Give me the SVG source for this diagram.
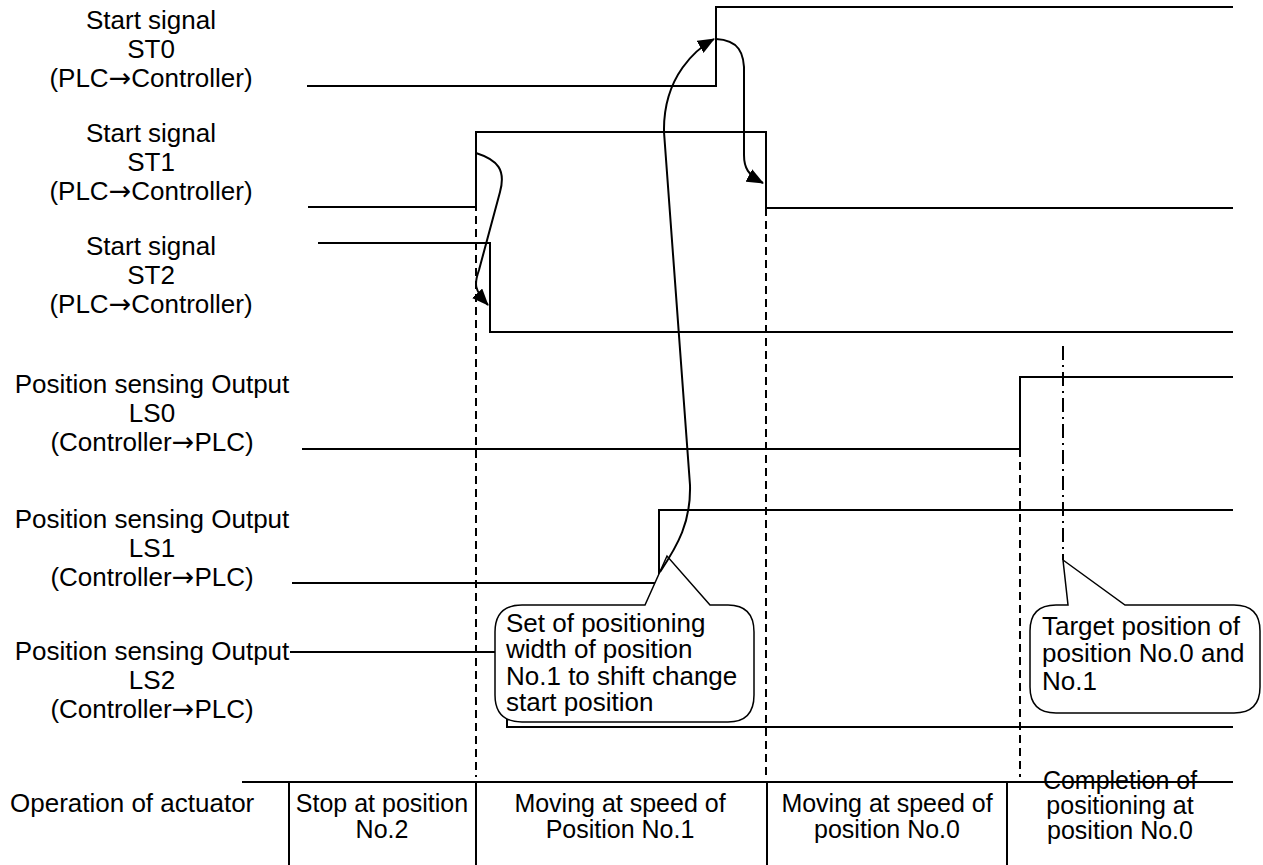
<svg xmlns="http://www.w3.org/2000/svg" width="1263" height="865" viewBox="0 0 1263 865">
<style>
text{font-family:"Liberation Sans",Arial,sans-serif;font-size:26px;fill:#000}
.c{text-anchor:middle}
.ar{font-family:"DejaVu Sans",sans-serif;font-size:27px}
.t{font-size:25px}
.sig{fill:none;stroke:#000;stroke-width:2}
.dash{fill:none;stroke:#000;stroke-width:2;stroke-dasharray:8,5}
.dd{fill:none;stroke:#000;stroke-width:2;stroke-dasharray:14,5,2,5}
.cv{fill:none;stroke:#000;stroke-width:2;marker-end:url(#ah)}
.co{fill:#fff;stroke:#000;stroke-width:1.5}
.tb{fill:none;stroke:#000;stroke-width:2}
</style>
<defs>
<marker id="ah" viewBox="0 0 17 14" refX="16" refY="7" markerWidth="17" markerHeight="14" markerUnits="userSpaceOnUse" orient="auto"><path d="M0,0 L17,7 L0,14 z" fill="#000"/></marker>
</defs>
<g id="labels">
<text class="c" x="151" y="29">Start signal</text>
<text class="c" x="151" y="58">ST0</text>
<text class="c" x="151" y="87">(PLC<tspan class="ar">→</tspan>Controller)</text>
<text class="c" x="151" y="142">Start signal</text>
<text class="c" x="151" y="171">ST1</text>
<text class="c" x="151" y="200">(PLC<tspan class="ar">→</tspan>Controller)</text>
<text class="c" x="151" y="255">Start signal</text>
<text class="c" x="151" y="284">ST2</text>
<text class="c" x="151" y="313">(PLC<tspan class="ar">→</tspan>Controller)</text>
<text class="c" x="152" y="393">Position sensing Output</text>
<text class="c" x="152" y="422">LS0</text>
<text class="c" x="152" y="451">(Controller<tspan class="ar">→</tspan>PLC)</text>
<text class="c" x="152" y="528">Position sensing Output</text>
<text class="c" x="152" y="557">LS1</text>
<text class="c" x="152" y="586">(Controller<tspan class="ar">→</tspan>PLC)</text>
<text class="c" x="152" y="660">Position sensing Output</text>
<text class="c" x="152" y="689">LS2</text>
<text class="c" x="152" y="718">(Controller<tspan class="ar">→</tspan>PLC)</text>
</g>
<g id="guides">
<line class="dash" x1="476" y1="190" x2="476" y2="777"/>
<line class="dash" x1="766" y1="208" x2="766" y2="777"/>
<line class="dash" x1="1020" y1="449" x2="1020" y2="777"/>
<line class="dd" x1="1063" y1="346" x2="1063" y2="560"/>
</g>
<g id="signals">
<polyline id="st0" class="sig" points="307,86 716,86 716,7 1233,7"/>
<polyline id="st1" class="sig" points="308,207 476,207 476,132 766,132 766,208 1233,208"/>
<polyline id="st2" class="sig" points="318,243 490,243 490,332 1233,332"/>
<polyline id="ls0" class="sig" points="302,449 1020,449 1020,377 1233,377"/>
<polyline id="ls1" class="sig" points="292,583 659,583 659,510 1233,510"/>
<polyline id="ls2" class="sig" points="290,652 507,652 507,727 1233,727"/>
</g>
<g id="callout1">
<path class="co" d="M522,605 L645,605 L667,556 L710,605 L728,605 Q754,605 754,632 L754,695 Q754,722 728,722 L522,722 Q495,722 495,695 L495,632 Q495,605 522,605 Z"/>
<text x="506" y="632">Set of positioning</text>
<text x="506" y="658">width of position</text>
<text x="506" y="685">No.1 to shift change</text>
<text x="506" y="711">start position</text>
</g>
<g id="callout2">
<path class="co" d="M1056,605 L1068,605 L1063,560 L1125,605 L1234,605 Q1260,605 1260,631 L1260,687 Q1260,713 1234,713 L1056,713 Q1030,713 1030,687 L1030,631 Q1030,605 1056,605 Z"/>
<text x="1042" y="635">Target position of</text>
<text x="1042" y="662">position No.0 and</text>
<text x="1042" y="690">No.1</text>
</g>
<g id="connectors">
<path class="cv" d="M476,153 C498,160 506,170 500,192 L479,270 C474,284 474,290 488,305"/>
<path class="cv" d="M660,572 C678,545 691,522 690,485 L664,132 C663,75 698,48 714,39"/>
<path class="cv" d="M716,39 C738,40 745,52 744,75 L744,155 C744,168 748,175 763,183"/>
</g>
<g id="table">
<line class="tb" x1="242" y1="782" x2="1233" y2="782"/>
<line class="tb" x1="289" y1="782" x2="289" y2="865"/>
<line class="tb" x1="476" y1="782" x2="476" y2="865"/>
<line class="tb" x1="767" y1="782" x2="767" y2="865"/>
<line class="tb" x1="1007" y1="782" x2="1007" y2="865"/>
<text x="10" y="812">Operation of actuator</text>
<text class="c t" x="382" y="812">Stop at position</text>
<text class="c t" x="382" y="838">No.2</text>
<text class="c t" x="620" y="812">Moving at speed of</text>
<text class="c t" x="620" y="838">Position No.1</text>
<text class="c t" x="887" y="812">Moving at speed of</text>
<text class="c t" x="887" y="838">position No.0</text>
<text class="c t" x="1120" y="789">Completion of</text>
<text class="c t" x="1120" y="814">positioning at</text>
<text class="c t" x="1120" y="839">position No.0</text>
</g>
</svg>
